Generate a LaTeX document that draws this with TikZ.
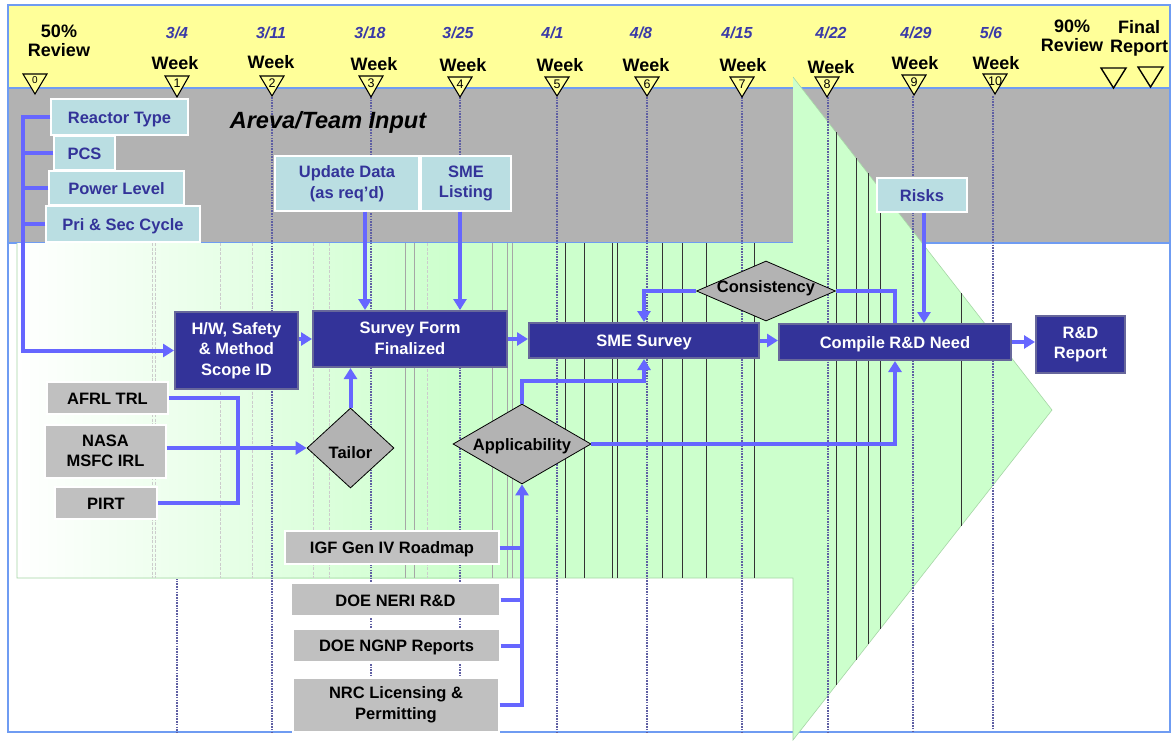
\documentclass[tikz,border=0pt]{standalone}
\usepackage{fontspec}
\setmainfont{Liberation Sans}
\usetikzlibrary{shapes.geometric,arrows.meta}

\definecolor{frameblue}{HTML}{6F9CF2}
\definecolor{bandyellow}{HTML}{FFFF99}
\definecolor{bandgray}{HTML}{B2B2B2}
\definecolor{agreen}{HTML}{CCFFCC}
\definecolor{agreenedge}{HTML}{A6D6A6}
\definecolor{weekline}{HTML}{5F5FA3}
\definecolor{cblue}{HTML}{6666FF}
\definecolor{navy}{HTML}{333399}
\definecolor{navyedge}{HTML}{67679B}
\definecolor{lblue}{HTML}{BADEE2}
\definecolor{lgray}{HTML}{C0C0C0}
\definecolor{dgray}{HTML}{B3B3B3}
\definecolor{datecol}{HTML}{3A3AA8}

\newcommand{\bxfont}{\bfseries\fontsize{16.5}{20.5}\selectfont}
\newcommand{\tstrut}{\rule[-2pt]{0pt}{17.5pt}}

\tikzset{
  lbox/.style={draw=white, line width=1.3pt, fill=lblue, text=navy, font=\bxfont, align=center, inner sep=0pt, execute at begin node=\tstrut},
  dbox/.style={draw=navyedge, line width=2pt, fill=navy, text=white, font=\bxfont, align=center, inner sep=0pt, execute at begin node=\tstrut},
  gbox/.style={draw=white, line width=1.3pt, fill=lgray, text=black, font=\bxfont, align=center, inner sep=0pt, execute at begin node=\tstrut},
  dia/.style={diamond, draw=black, line width=0.8pt, fill=dgray, font=\bxfont, inner sep=0pt},
  connector/.style={draw=cblue, line width=4pt},
  arr/.style={-{Triangle[length=11pt,width=13pt]}},
  wline/.style={draw=weekline, line width=2.2pt, dash pattern=on 1.6pt off 1.1pt},
  lightln/.style={draw=gray!40, line width=0.7pt, dash pattern=on 3pt off 1.5pt},
  midln/.style={draw=gray!70, line width=0.7pt},
  darkln/.style={draw=black!80, line width=0.8pt},
  bigtxt/.style={font=\bfseries\fontsize{18}{19}\selectfont, align=center, inner sep=0pt}
}

% marker x, number, date, date x, week x, week y, tri top, tri bottom
\newcommand{\wkm}[8]{%
  \draw[line width=1.1pt, fill=bandyellow] (#1-12,#7) -- (#1+12,#7) -- (#1,#8) -- cycle;
  \node[font=\fontsize{12.5}{12.5}\selectfont, inner sep=0pt] (n#2) at (#1,#7+7.5) {#2};
  \node[font=\bfseries\itshape\fontsize{16}{16}\selectfont, text=datecol, inner sep=0pt] (d#2) at (#4,33) {#3};
  \node[font=\bfseries\fontsize{18}{18}\selectfont, inner sep=0pt] (w#2) at (#5,#6) {Week};
}

\begin{document}
\begin{tikzpicture}[x=1pt,y=-1pt]
\useasboundingbox (0,0) rectangle (1172,740);
\fill[white] (0,0) rectangle (1172,740);

% frame and bands
\draw[frameblue, line width=2pt, fill=white] (8,5) rectangle (1170,732);
\draw[frameblue, line width=2pt, fill=bandyellow] (8,5) rectangle (1170,88);
\draw[frameblue, line width=2pt, fill=bandgray] (8,88) rectangle (1170,243);

% week 1 line (behind the arrow)
\draw[wline] (177,578) -- (177,732);

% big green arrow
\fill[agreen] (17,243) -- (793,243) -- (793,77) -- (1052,410) -- (793,740) -- (793,578) -- (17,578) -- cycle;
\shade[left color=white, right color=agreen] (17,243) rectangle (460,578);
\draw[agreenedge, line width=0.6pt] (793,77) -- (1052,410) -- (793,740) -- (793,578) -- (17,578) -- (17,243);

% thin stripes in the arrow
\foreach \x in {152,155,220,252,313,329,427} \draw[lightln] (\x,243) -- (\x,578);
\foreach \x in {405,414,492,507,512} \draw[midln] (\x,243) -- (\x,578);
\foreach \x in {565,584,612,617,662,682,706,754} \draw[darkln] (\x,243) -- (\x,578);
\draw[darkln] (836,132.3) -- (836,685.2);
\draw[darkln] (856,158) -- (856,659.7);
\draw[darkln] (868,173.4) -- (868,644.4);
\draw[darkln] (880,188.9) -- (880,629.2);
\draw[darkln] (961,293) -- (961,526);

% week dotted lines
\foreach \x in {272,371,460,557,647,742,828} \draw[wline] (\x,97) -- (\x,732);
\draw[wline] (913,96) -- (913,732);
\draw[wline] (993,96) -- (993,729);

% header
\draw[line width=1.1pt, fill=bandyellow] (23,74) -- (47,74) -- (35,94) -- cycle;
\node[font=\fontsize{10}{10}\selectfont, inner sep=0pt] (n0) at (35,80) {0};
\node[bigtxt] (r50) at (59,41) {50\%\\Review};
\wkm{177}{1}{3/4}{177}{175}{63.5}{76}{97}
\wkm{272}{2}{3/11}{271}{271}{61.7}{76}{96}
\wkm{371}{3}{3/18}{370}{374}{64}{76}{97}
\wkm{460}{4}{3/25}{458}{463}{65.5}{77}{97}
\wkm{557}{5}{4/1}{552.5}{560}{65.5}{77}{96}
\wkm{647}{6}{4/8}{641}{646}{65.5}{77}{96}
\wkm{742}{7}{4/15}{737}{743}{65.5}{77}{97}
\wkm{827}{8}{4/22}{831}{831}{66.7}{77}{97}
\wkm{914}{9}{4/29}{916}{915}{63.3}{75}{95}
\wkm{995}{10}{5/6}{991}{996}{63.3}{74}{94}
\node[bigtxt] (r90) at (1072,36) {90\%\\Review};
\node[bigtxt] (final) at (1139,38) {Final\\Report};
\draw[line width=1.4pt] (1101,68) -- (1126,68) -- (1113.5,88) -- cycle;
\draw[line width=1.4pt] (1138,67) -- (1163,67) -- (1150.5,87) -- cycle;

\node[font=\bfseries\itshape\fontsize{23.5}{23.5}\selectfont, inner sep=0pt] (areva) at (328,122) {Areva/Team Input};

% light blue input boxes
\node[lbox, minimum width=137pt, minimum height=36pt] (reactor) at (119.5,117) {Reactor Type};
\node[lbox, minimum width=61pt, minimum height=34pt] (pcs) at (84.5,153) {PCS};
\node[lbox, minimum width=135pt, minimum height=34pt] (power) at (116.5,188) {Power Level};
\node[lbox, minimum width=154pt, minimum height=36pt] (prisec) at (123,224) {Pri \& Sec Cycle};
\node[lbox, minimum width=144pt, minimum height=55pt] (update) at (347,183.5) {Update Data\\(as req’d)};
\node[lbox, minimum width=90pt, minimum height=55pt] (smel) at (466,183.5) {SME\\Listing};
\node[lbox, minimum width=90pt, minimum height=34pt] (risks) at (922,195) {Risks};

% process boxes
\node[dbox, minimum width=123pt, minimum height=77pt] (hw) at (236.5,350.5) {H/W, Safety\\\& Method\\Scope ID};
\node[dbox, minimum width=194pt, minimum height=56pt] (survey) at (410,339) {Survey Form\\Finalized};
\node[dbox, minimum width=230pt, minimum height=35pt] (sme) at (644,340.5) {SME Survey};
\node[dbox, minimum width=232pt, minimum height=36pt] (compile) at (895,342) {Compile R\&D Need};
\node[dbox, minimum width=89pt, minimum height=57pt] (rd) at (1080.5,344.5) {R\&D\\Report};

% gray source boxes
\node[gbox, minimum width=121pt, minimum height=32pt] (afrl) at (107.5,398) {AFRL TRL};
\node[gbox, minimum width=121pt, minimum height=53pt] (nasa) at (105.5,451.5) {NASA\\MSFC IRL};
\node[gbox, minimum width=102pt, minimum height=32pt] (pirt) at (106,503) {PIRT};
\node[gbox, minimum width=214pt, minimum height=33pt] (igf) at (392,547.5) {IGF Gen IV Roadmap};
\node[gbox, minimum width=209pt, minimum height=33pt] (neri) at (395.5,599.5) {DOE NERI R\&D};
\node[gbox, minimum width=207pt, minimum height=33pt] (ngnp) at (396.5,645.5) {DOE NGNP Reports};
\node[gbox, minimum width=206pt, minimum height=54pt] (nrc) at (396,705) {NRC Licensing \&\\Permitting};

% decisions
\node[dia, minimum width=139pt, minimum height=60pt, aspect=2.3] (cons) at (766,291) {\raisebox{5pt}[12pt][0pt]{Consistency}};
\node[dia, minimum width=138pt, minimum height=80pt, aspect=1.72] (appl) at (522,444) {\raisebox{0pt}[12pt][0pt]{Applicability}};
\node[dia, minimum width=87pt, minimum height=80pt, aspect=1.09] (tailor) at (350.5,448) {\raisebox{-4pt}[12pt][0pt]{Tailor}};

% connectors
\coordinate (busL) at (23,0);
\coordinate (busT) at (238,0);
\draw[connector] (pcs.west) -- (pcs.west -| busL);
\draw[connector] (power.west) -- (power.west -| busL);
\draw[connector] (prisec.west) -- (prisec.west -| busL);
\draw[connector, arr] (reactor.west) -- (reactor.west -| busL) |- (hw.west);
\draw[connector, arr] ([xshift=18pt]update.south) -- ([xshift=18pt]update.south |- survey.north);
\draw[connector, arr] ([xshift=-6pt]smel.south) -- ([xshift=-6pt]smel.south |- survey.north);
\draw[connector, arr] ([xshift=2pt]risks.south) -- ([xshift=2pt]risks.south |- compile.north);
\draw[connector, arr] (survey.west -| hw.east) -- (survey.west);
\draw[connector, arr] (survey.east) -- (survey.east -| sme.west);
\draw[connector, arr] (sme.east) -- (sme.east -| compile.west);
\draw[connector, arr] (compile.east) -- (compile.east -| rd.west);
\draw[connector] (compile.north) |- (cons.east);
\draw[connector, arr] (cons.west) -| (sme.north);
\draw[connector, arr] (appl.north) -- ([yshift=23pt]appl.north) -| (sme.south);
\draw[connector, arr] (appl.east) -| (compile.south);
\draw[connector, arr] (tailor.north) -- (tailor.north |- survey.south);
\draw[connector, arr] (tailor.west -| nasa.east) -- (tailor.west);
\draw[connector] (afrl.east) -- (afrl.east -| busT) |- (pirt.east);
\draw[connector] (igf.east) -- (igf.east -| appl.south);
\draw[connector] (neri.east) -- (neri.east -| appl.south);
\draw[connector] (ngnp.east) -- (ngnp.east -| appl.south);
\draw[connector, arr] (nrc.east) -- (nrc.east -| appl.south) -- (appl.south);
\end{tikzpicture}
\end{document}
